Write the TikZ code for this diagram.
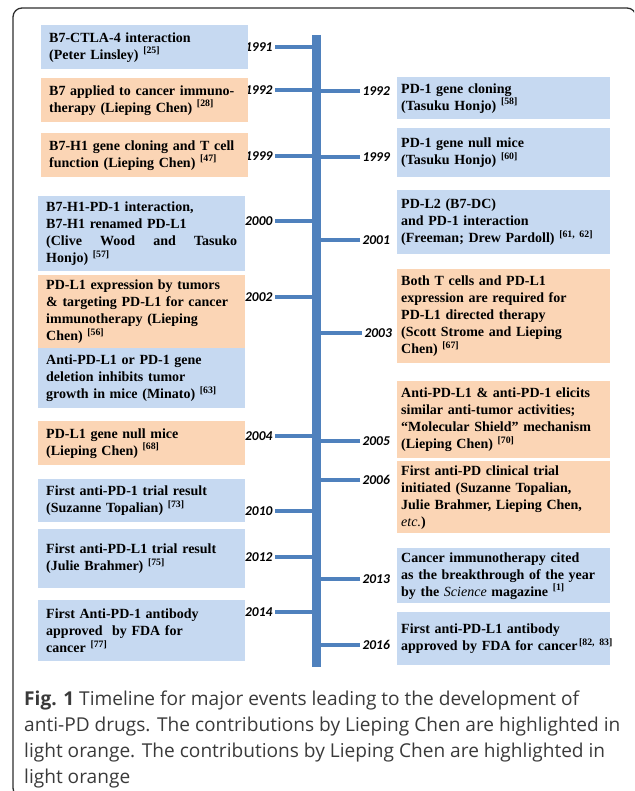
\documentclass[tikz,border=0pt]{standalone}
\usepackage{fontspec}
\setmainfont{Liberation Serif}
\newfontfamily\yearfont{Carlito}
\newfontfamily\capfont{Open Sans}
\definecolor{boxblue}{HTML}{C6D9F1}
\definecolor{boxorange}{HTML}{FBD5B5}
\definecolor{lineblue}{HTML}{4F81BD}
\definecolor{framegray}{HTML}{2E2E2E}
\definecolor{capgray}{HTML}{3A3A3A}
\newcommand{\refnum}[1]{\ \textsuperscript{[#1]}}

\begin{document}
\begin{tikzpicture}[x=1pt,y=-1pt,
  ev/.style={anchor=north west,inner xsep=8,inner ysep=0,align=left,
    font=\fontsize{14}{17}\selectfont\bfseries},
  lbox/.style={ev,text width=191,minimum height=#1},
  rbox/.style={ev,inner xsep=4,text width=205,minimum height=#1},
  chen/.style={fill=boxorange},
  others/.style={fill=boxblue},
  yearlbl/.style={font=\yearfont\fontsize{13.5}{14}\selectfont\bfseries\itshape,
    inner sep=0,outer xsep=2.5},
  tick/.style={lineblue,line width=3.5},
  axis/.style={lineblue,line width=9}]
\useasboundingbox (0,0) rectangle (634,791);
\clip (0,0) rectangle (634,791);
\draw[framegray,line width=1.3,rounded corners=9] (13,8) rectangle (636,797);

% years, left side
\node[yearlbl,anchor=east] (l1991) at (275,47) {1991};
\node[yearlbl,anchor=east] (l1992) at (275,90) {1992};
\node[yearlbl,anchor=east] (l1999) at (275,156) {1999};
\node[yearlbl,anchor=east] (l2000) at (275,221) {2000};
\node[yearlbl,anchor=east] (l2002) at (275,297) {2002};
\node[yearlbl,anchor=east] (l2004) at (275,436) {2004};
\node[yearlbl,anchor=east] (l2010) at (275,511) {2010};
\node[yearlbl,anchor=east] (l2012) at (275,557) {2012};
\node[yearlbl,anchor=east] (l2014) at (275,612) {2014};
% years, right side
\node[yearlbl,anchor=west] (r1992) at (360,91) {1992};
\node[yearlbl,anchor=west] (r1999) at (360,157) {1999};
\node[yearlbl,anchor=west] (r2001) at (360,240) {2001};
\node[yearlbl,anchor=west] (r2003) at (362,333) {2003};
\node[yearlbl,anchor=west] (r2005) at (360,441) {2005};
\node[yearlbl,anchor=west] (r2006) at (360,480) {2006};
\node[yearlbl,anchor=west] (r2013) at (360,579) {2013};
\node[yearlbl,anchor=west] (r2016) at (360,645) {2016};

\coordinate (axtop) at (316.5,35);
\coordinate (axbot) at (316.5,667);
\draw[tick] (l1991.east) -- (l1991 -| axtop);
\draw[tick] (l1992.east) -- (l1992 -| axtop);
\draw[tick] (l1999.east) -- (l1999 -| axtop);
\draw[tick] (l2000.east) -- (l2000 -| axtop);
\draw[tick] (l2002.east) -- (l2002 -| axtop);
\draw[tick] (l2004.east) -- (l2004 -| axtop);
\draw[tick] (l2010.east) -- (l2010 -| axtop);
\draw[tick] (l2012.east) -- (l2012 -| axtop);
\draw[tick] (l2014.east) -- (l2014 -| axtop);
\draw[tick] (r1992.west) -- (r1992 -| axtop);
\draw[tick] (r1999.west) -- (r1999 -| axtop);
\draw[tick] (r2001.west) -- (r2001 -| axtop);
\draw[tick] (r2003.west) -- (r2003 -| axtop);
\draw[tick] (r2005.west) -- (r2005 -| axtop);
\draw[tick] (r2006.west) -- (r2006 -| axtop);
\draw[tick] (r2013.west) -- (r2013 -| axtop);
\draw[tick] (r2016.west) -- (r2016 -| axtop);
\draw[axis] (axtop) -- (axbot);

% events, left side
\node[lbox=44,others] (ctla) at (41,25) {B7-CTLA-4 interaction\\ (Peter Linsley)\refnum{25}};
\node[lbox=44,chen] (b7cancer) at (41,78) {B7 applied to cancer immuno-\\therapy (Lieping Chen)\refnum{28}};
\node[lbox=44,chen] (b7hone) at (41,133) {B7-H1 gene cloning and T cell\\function (Lieping Chen)\refnum{47}};
\node[lbox=75,others] (renamed) at (38,196) {B7-H1-PD-1 interaction,\\B7-H1 renamed PD-L1\\(Clive\hfill Wood\hfill and\hfill Tasuko\\Honjo)\refnum{57}};
\node[lbox=73,chen] (tumors) at (38,275) {PD-L1 expression by tumors\\\& targeting PD-L1 for cancer\\immunotherapy (Lieping\\Chen)\refnum{56}};
\node[lbox=60,others] (deletion) at (38,348) {Anti-PD-L1 or PD-1 gene\\deletion inhibits tumor\\growth in mice (Minato)\refnum{63}};
\node[lbox=44,chen] (pdlnull) at (38,421) {PD-L1 gene null mice\\(Lieping Chen)\refnum{68}};
\node[lbox=43,others] (trialpd) at (38,479) {First anti-PD-1 trial result\\(Suzanne Topalian)\refnum{73}};
\node[lbox=59,others] (trialpdl) at (38,529) {First anti-PD-L1 trial result\\(Julie Brahmer)\refnum{75}\\[14pt]};
\node[lbox=61,others] (fdapd) at (38,600) {First Anti-PD-1 antibody\\approved\ \ by FDA for\\cancer\refnum{77}};

% events, right side
\node[rbox=42,others] (pdclone) at (397,77) {PD-1 gene cloning\\(Tasuku Honjo)\refnum{58}};
\node[rbox=49,others] (pdnull) at (397,128) {PD-1 gene null mice\\(Tasuku Honjo)\refnum{60}};
\node[rbox=64,others] (pdltwo) at (397,190) {PD-L2 (B7-DC)\\and PD-1 interaction\\(Freeman; Drew Pardoll)\refnum{61, 62}};
\node[rbox=94,chen] (tcells) at (397,269) {Both T cells and PD-L1\\expression are required for\\PD-L1 directed\ therapy\\(Scott Strome and Lieping\\Chen)\refnum{67}};
\node[rbox=77,chen] (shield) at (397,381) {Anti-PD-L1 \& anti-PD-1 elicits\\similar anti-tumor activities;\\``Molecular\ Shield'' mechanism\\(Lieping Chen)\refnum{70}};
\node[rbox=72,chen] (clinical) at (397,461) {First anti-PD clinical trial\\initiated (Suzanne Topalian,\\Julie Brahmer, Lieping Chen,\\{\mdseries\itshape etc.})};
\node[rbox=55,others] (science) at (397,548) {Cancer immunotherapy cited\\as the breakthrough of the year\\by the {\mdseries\itshape Science}\ magazine\refnum{1}};
\node[rbox=53,others] (fdapdl) at (397,612) {First anti-PD-L1 antibody\\\mbox{approved by FDA for cancer\textsuperscript{\,[82, 83]}}\\[14pt]};

\node[anchor=north west,inner sep=0,align=left,capgray,
  font=\capfont\fontsize{19.1}{26}\selectfont] (caption) at (24,691)
  {\textbf{Fig. 1} Timeline for major events leading to the development of\\
   anti-PD drugs. The contributions by Lieping Chen are highlighted in\\
   light orange. The contributions by Lieping Chen are highlighted in\\
   light orange};
\end{tikzpicture}
\end{document}
